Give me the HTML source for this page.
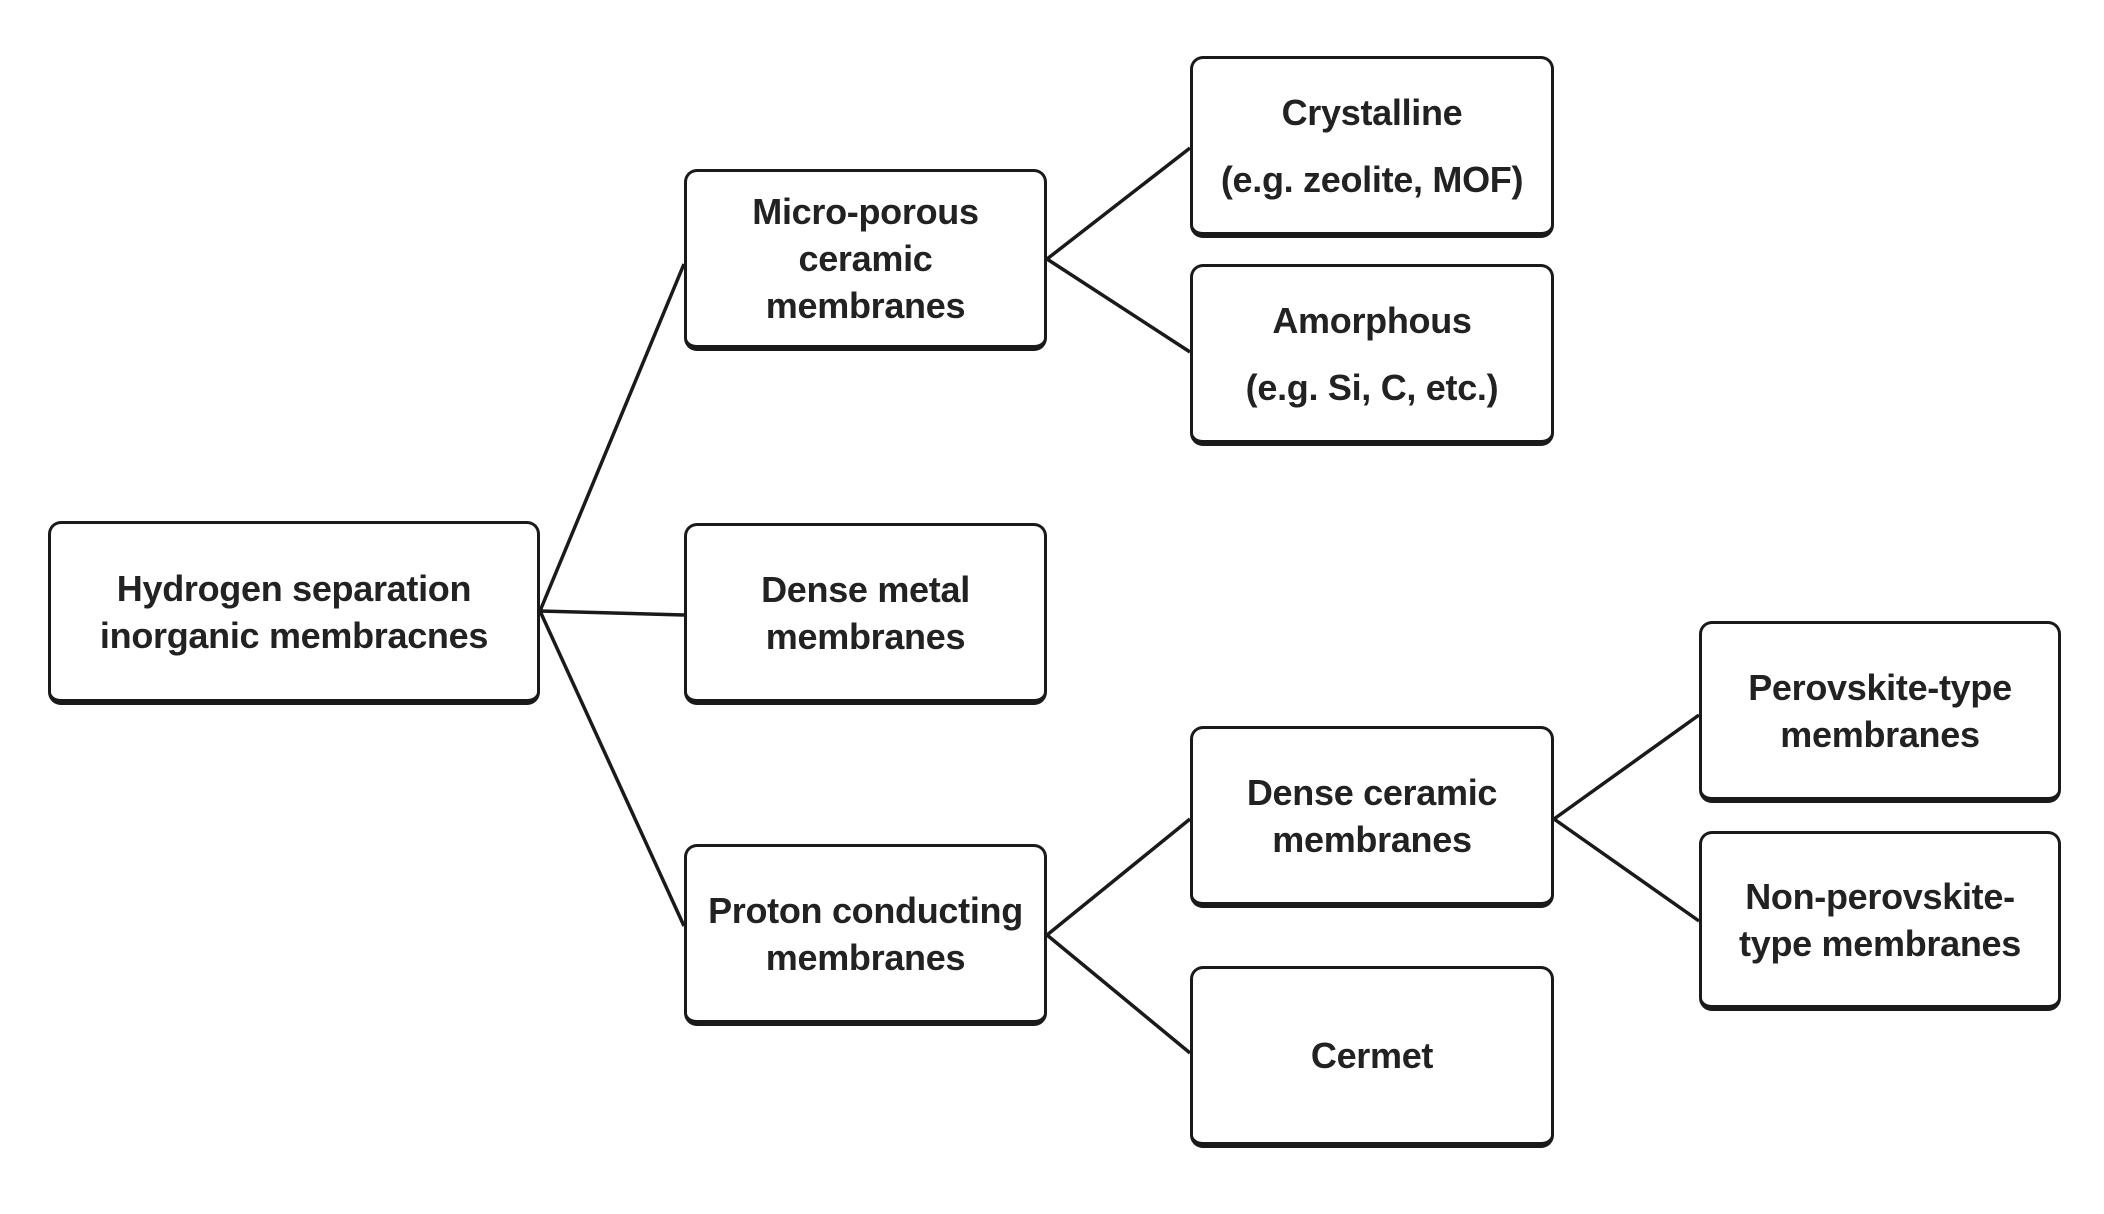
<!DOCTYPE html>
<html><head><meta charset="utf-8"><style>
html,body{margin:0;padding:0;background:#fff;}
body{width:2104px;height:1214px;position:relative;overflow:hidden;font-family:"Liberation Sans",sans-serif;}
.b{position:absolute;box-sizing:border-box;border:3px solid #1a1a1a;border-bottom-width:6px;border-radius:13px;background:#fff;display:flex;align-items:center;justify-content:center;text-align:center;font-weight:bold;font-size:36px;line-height:47px;color:#222;letter-spacing:-0.3px;}
svg{position:absolute;left:0;top:0;}
</style></head><body>
<svg width="2104" height="1214"><g stroke="#1a1a1a" stroke-width="3.5" fill="none">
<line x1="540" y1="611" x2="684" y2="264"/>
<line x1="540" y1="611" x2="684" y2="615"/>
<line x1="540" y1="611" x2="684" y2="926"/>
<line x1="1047" y1="259" x2="1190" y2="148"/>
<line x1="1047" y1="259" x2="1190" y2="352"/>
<line x1="1047" y1="935" x2="1190" y2="819"/>
<line x1="1047" y1="935" x2="1190" y2="1053"/>
<line x1="1554" y1="819" x2="1699" y2="715"/>
<line x1="1554" y1="819" x2="1699" y2="921"/>
</g></svg>
<div class="b" style="left:48px;top:521px;width:492px;height:184px;">Hydrogen separation<br>inorganic membracnes</div>
<div class="b" style="left:684px;top:169px;width:363px;height:182px;">Micro-porous<br>ceramic<br>membranes</div>
<div class="b" style="left:684px;top:523px;width:363px;height:182px;">Dense metal<br>membranes</div>
<div class="b" style="left:684px;top:844px;width:363px;height:182px;">Proton conducting<br>membranes</div>
<div class="b" style="left:1190px;top:56px;width:364px;height:182px;line-height:67px;">Crystalline<br>(e.g. zeolite, MOF)</div>
<div class="b" style="left:1190px;top:264px;width:364px;height:182px;line-height:67px;">Amorphous<br>(e.g. Si, C, etc.)</div>
<div class="b" style="left:1190px;top:726px;width:364px;height:182px;">Dense ceramic<br>membranes</div>
<div class="b" style="left:1190px;top:966px;width:364px;height:182px;">Cermet</div>
<div class="b" style="left:1699px;top:621px;width:362px;height:182px;">Perovskite-type<br>membranes</div>
<div class="b" style="left:1699px;top:831px;width:362px;height:180px;">Non-perovskite-<br>type membranes</div>
</body></html>
